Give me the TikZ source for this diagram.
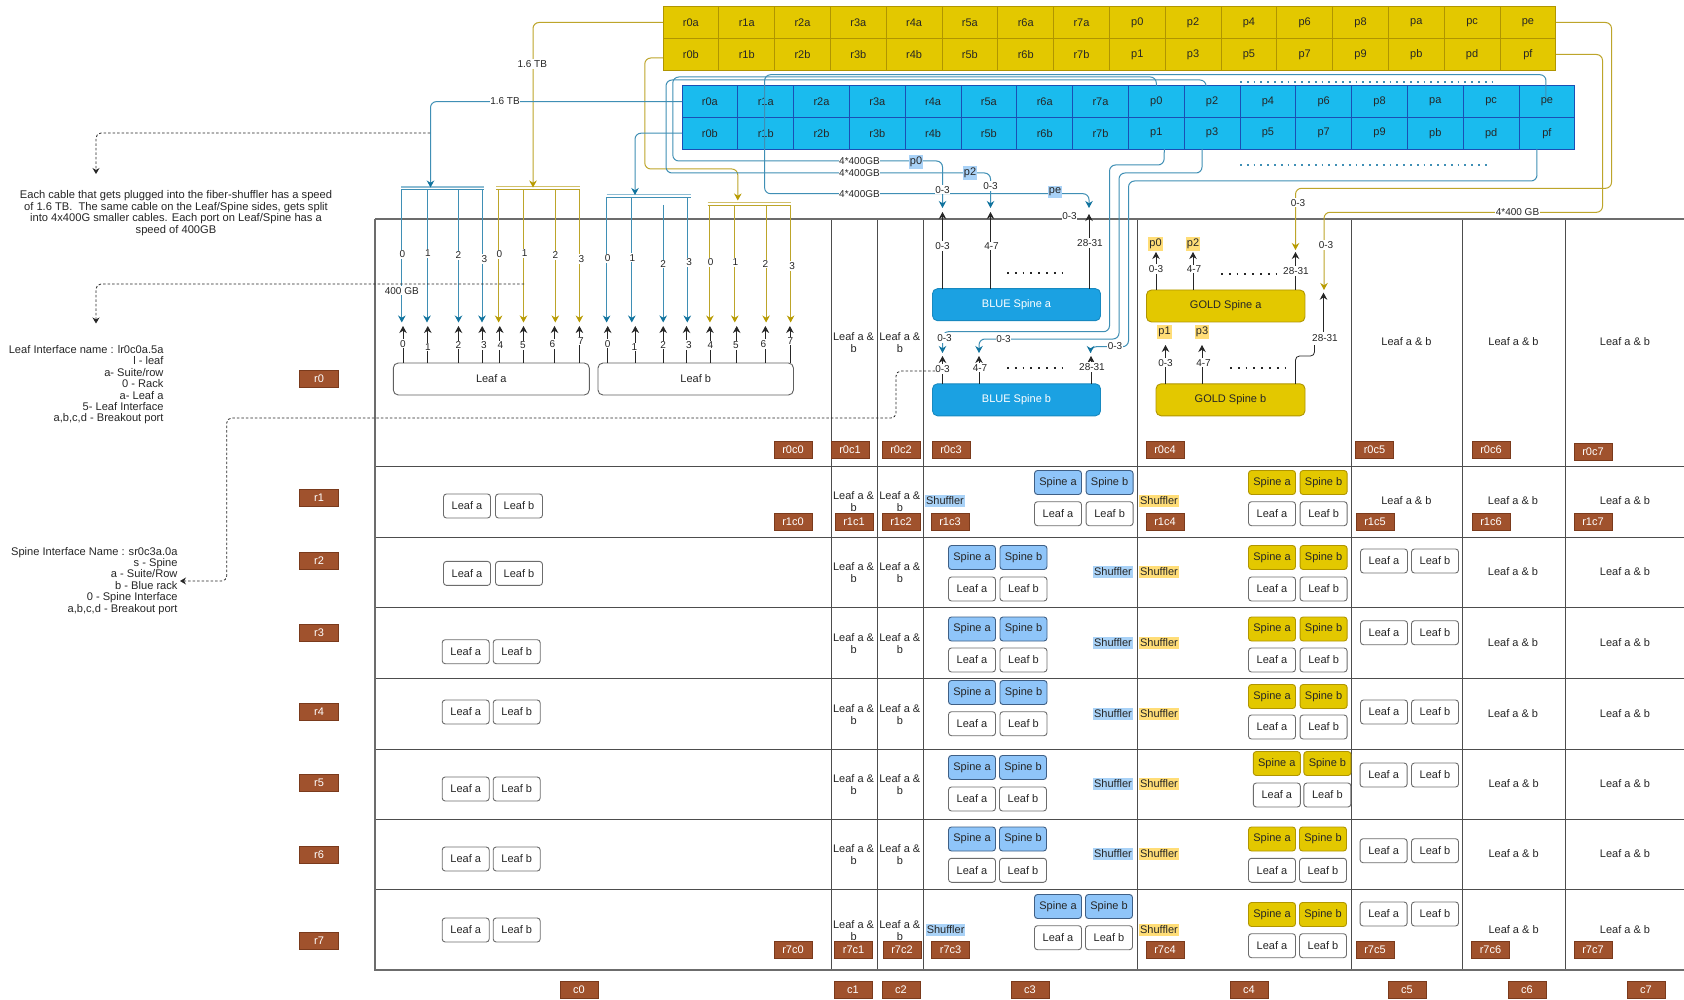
\documentclass[tikz,border=0pt]{standalone}
\usepackage{fontspec}
\setmainfont{Liberation Sans}
\usetikzlibrary{arrows.meta}
\definecolor{ink}{HTML}{262626}
\definecolor{goldfill}{HTML}{E3C800}
\definecolor{goldedge}{HTML}{B09500}
\definecolor{goldline}{HTML}{BDA52A}
\definecolor{goldtip}{HTML}{B89B00}
\definecolor{bluefill}{HTML}{1ABBEE}
\definecolor{blueedge}{HTML}{1A4FB5}
\definecolor{blueline}{HTML}{3F8FB5}
\definecolor{bluetip}{HTML}{10739E}
\definecolor{spinefill}{HTML}{1BA1E2}
\definecolor{lightspine}{HTML}{8FC5F9}
\definecolor{lightedge}{HTML}{3F5F85}
\definecolor{tagfill}{HTML}{A0522D}
\definecolor{tagedge}{HTML}{7A3A1C}
\definecolor{hiblue}{HTML}{A9D2F7}
\definecolor{higold}{HTML}{FFDD77}
\definecolor{gridc}{HTML}{4D4D4D}
\tikzset{
 every node/.style={font=\fontsize{11}{12}\selectfont,text=ink,inner sep=0pt,outer sep=0pt},
 gcell/.style={draw=goldedge,fill=goldfill,line width=.8pt,minimum width=55.8pt,minimum height=32pt},
 bcell/.style={draw=blueedge,fill=bluefill,line width=.8pt,minimum width=55.8pt,minimum height=31.6pt},
 tag/.style={draw=tagedge,fill=tagfill,text=white,line width=.6pt,minimum width=38pt,minimum height=16.5pt},
 tagw/.style={tag,minimum width=38.5pt},
 sleaf/.style={draw=gray!85!black,fill=white,rounded corners=3pt,line width=.9pt,minimum width=47pt,minimum height=24pt},
 bsp/.style={draw=lightedge,fill=lightspine,rounded corners=3pt,line width=.9pt,minimum width=47pt,minimum height=24pt},
 gsp/.style={draw=goldedge,fill=goldfill,rounded corners=3pt,line width=.9pt,minimum width=47pt,minimum height=24pt},
 bigbox/.style={rounded corners=5pt,line width=.9pt},
 shb/.style={fill=hiblue,inner xsep=1pt,inner ysep=2pt},
 shg/.style={fill=higold,inner xsep=1pt,inner ysep=2pt},
 lbl/.style={fill=white,font=\fontsize{10}{11}\selectfont,inner xsep=.5pt,inner ysep=1pt},
 stem/.style={draw=ink,line width=.8pt,-{Stealth[length=7pt,width=7.5pt]}},
 bluec/.style={draw=blueline,line width=1pt,rounded corners=6pt,-{Stealth[length=7pt,width=7.5pt,color=bluetip]}},
 goldc/.style={draw=goldline,line width=1pt,rounded corners=6pt,-{Stealth[length=7pt,width=7.5pt,color=goldtip]}},
 bluen/.style={draw=blueline,line width=1pt,rounded corners=6pt},
 goldn/.style={draw=goldline,line width=1pt,rounded corners=6pt},
 hint/.style={draw=ink,line width=.8pt,dash pattern=on 2.5pt off 2pt,rounded corners=5pt,-{Stealth[length=6pt,width=7pt]}},
 dotsk/.style={draw=ink,line width=1.8pt,dash pattern=on 1.8pt off 6pt},
 dotsb/.style={draw=blueline,line width=1.8pt,dash pattern=on 1.8pt off 5pt},
 gridl/.style={draw=gridc,line width=1pt},
 gridt/.style={draw=gray!85!black,line width=1.8pt}
}
\begin{document}
\begin{tikzpicture}[x=1pt,y=-1pt]
\useasboundingbox (0,0) rectangle (1684,1000);
\fill[white] (0,0) rectangle (1684,1000);
% grid
\foreach \y in {466,537,607,678,749,819,889}{\draw[gridl] (375,\y) -- (1684,\y);}
\foreach \x in {831,877,923.5,1137.5,1351,1462.5,1565}{\draw[gridl] (\x,219) -- (\x,970);}
\draw[gridt] (375,219) -- (1684,219);
\draw[gridt] (375,219) -- (375,970) -- (1684,970);
% tables
\foreach \t [count=\i from 0] in {r0a,r1a,r2a,r3a,r4a,r5a,r6a,r7a,p0,p2,p4,p6,p8,pa,pc,pe}{
 \node[gcell] (g\t) at ({663+55.8*(\i+.5)},22.5) {\t};
 \node[bcell] (b\t) at ({682+55.8*(\i+.5)},101.6) {\t};}
\foreach \t [count=\i from 0] in {r0b,r1b,r2b,r3b,r4b,r5b,r6b,r7b,p1,p3,p5,p7,p9,pb,pd,pf}{
 \node[gcell] (g\t) at ({663+55.8*(\i+.5)},54.5) {\t};
 \node[bcell] (b\t) at ({682+55.8*(\i+.5)},133.2) {\t};}
% big boxes
\node[bigbox,draw=gray!75!black,fill=white,minimum width=196pt,minimum height=32pt] (LeafA) at (491.3,379) {Leaf a};
\node[bigbox,draw=gray!75!black,fill=white,minimum width=195.5pt,minimum height=32pt] (LeafB) at (695.7,379) {Leaf b};
\node[bigbox,draw=spinefill!85!black,fill=spinefill,text=white,minimum width=168pt,minimum height=32pt] (BSa) at (1016.5,304.7) {BLUE Spine a};
\node[bigbox,draw=spinefill!85!black,fill=spinefill,text=white,minimum width=168pt,minimum height=32pt] (BSb) at (1016.5,399.8) {BLUE Spine b};
\node[bigbox,draw=goldedge,fill=goldfill,minimum width=158.5pt,minimum height=32pt] (GSa) at (1225.7,306) {GOLD Spine a};
\node[bigbox,draw=goldedge,fill=goldfill,minimum width=149pt,minimum height=32pt] (GSb) at (1230.5,399.8) {GOLD Spine b};
% leaf port stems
\foreach \n/\x in {a0/403,a1/427.8,a2/458.5,a3/482.2,a4/499.8,a5/523.5,a6/554.5,a7/579.4}{
 \coordinate (pl\n) at (\x,326);
 \draw[stem] (pl\n |- LeafA.north) -- (pl\n);}
\foreach \n/\x in {b0/607.7,b1/635.3,b2/663.2,b3/686.5,b4/709.9,b5/736.7,b6/765.4,b7/789.9}{
 \coordinate (pl\n) at (\x,326);
 \draw[stem] (pl\n |- LeafB.north) -- (pl\n);}
\foreach \x/\y/\d in {403/343.7/0,427.8/347/1,458.5/345/2,484/345/3,500.5/345.5/4,523/345.5/5,552.5/344/6,581/341/7,607.7/343.7/0,634.5/347/1,663.2/345/2,689/345/3,710.5/345.5/4,736/345.5/5,763.5/344/6,790.5/341/7}{
 \node[lbl] at (\x,\y) {\d};}
% buses and drops
\coordinate (bb1l) at (401,189.7); \coordinate (bb1r) at (484,189.7);
\coordinate (bg1l) at (496,189.5); \coordinate (bg1r) at (579.5,189.5);
\coordinate (bb2l) at (606.6,197.5); \coordinate (bb2r) at (691,197.5);
\coordinate (bg2l) at (707.6,205.5); \coordinate (bg2r) at (790.6,205.5);
\draw[draw=blueline!60!white,line width=1.2pt] ([yshift=2.7pt]bb1l) -- ([yshift=2.7pt]bb1r);
\draw[draw=blueline,line width=1pt] (bb1l) -- (bb1r);
\draw[draw=goldline!70!white,line width=1.2pt] ([yshift=2.7pt]bg1l) -- ([yshift=2.7pt]bg1r);
\draw[draw=goldline,line width=1pt] (bg1l) -- (bg1r);
\draw[draw=blueline!60!white,line width=1.2pt] ([yshift=2.7pt]bb2l) -- ([yshift=2.7pt]bb2r);
\draw[draw=blueline,line width=1pt] (bb2l) -- (bb2r);
\draw[draw=goldline!70!white,line width=1.2pt] ([yshift=3pt]bg2l) -- ([yshift=3pt]bg2r);
\draw[draw=goldline,line width=1pt] (bg2l) -- (bg2r);
\foreach \x in {401.8,427,458.5,482}{\coordinate (d) at (\x,322.5); \draw[bluec] (d |- bb1l) -- (d);}
\foreach \x in {498.6,523.5,555.3,579.4}{\coordinate (d) at (\x,322.5); \draw[goldc] (d |- bg1l) -- (d);}
\foreach \x in {606.6,631.8,687.3}{\coordinate (d) at (\x,322.5); \draw[bluec] (d |- bb2l) -- (d);}
\coordinate (d) at (663.2,322.5); \coordinate (dt) at (663.2,205); \draw[bluec] (dt) -- (d);
\foreach \x in {709.9,734.8,766.1,790.6}{\coordinate (d) at (\x,322.5); \draw[goldc] (d |- bg2l) -- (d);}
\foreach \x/\y/\d in {402.5/254.3/0,427.8/253.3/1,458.5/255.3/2,484.5/259/3,499.5/254.3/0,524.7/253.3/1,555.3/255.3/2,581.3/259/3,607.7/258.3/0,632.5/257.7/1,663.2/264/2,689.2/262.3/3,710.7/262.3/0,735.5/262.3/1,765.4/264/2,792.2/266/3}{
 \node[lbl] at (\x,\y) {\d};}
\node[lbl] at (401.8,290.7) {400 GB};
% feeders to the leaves
\coordinate (fb1) at (430.5,187.5); \coordinate (fg1) at (533,187.5);
\coordinate (fb2) at (635,195); \coordinate (fg2) at (737.8,200.5);
\draw[goldc] (gr0a.west) -- (fg1 |- gr0a.west) -- (fg1);
\draw[goldc] ([yshift=-3.5pt]gr0b.west) -- (644.8,58) -- (644.8,169) -- (737.8,169) -- (fg2);
\draw[bluec] (br0a.west) -- (fb1 |- br0a.west) -- (fb1);
\draw[bluec] (br0b.west) -- (fb2 |- br0b.west) -- (fb2);
\node[lbl] at (532.3,64) {1.6 TB};
\node[lbl] at (505,101) {1.6 TB};
% spine stems
\coordinate (sa0) at (942.5,212); \coordinate (sa1) at (990.5,212); \coordinate (sa2) at (1089,214);
\coordinate (sb0) at (942.5,356); \coordinate (sb1) at (979,356); \coordinate (sb2) at (1091,356);
\coordinate (ga0) at (1156,252); \coordinate (ga1) at (1193,252); \coordinate (ga2) at (1295.5,252);
\coordinate (gb0) at (1165.5,345); \coordinate (gb1) at (1202,345); \coordinate (gb2) at (1323.5,292.7);
\draw[stem] (sa0 |- BSa.north) -- (sa0);
\draw[stem] (sa1 |- BSa.north) -- (sa1);
\draw[stem] (sa2 |- BSa.north) -- (sa2);
\draw[stem] (sb0 |- BSb.north) -- (sb0);
\draw[stem] (sb1 |- BSb.north) -- (sb1);
\draw[stem] (sb2 |- BSb.north) -- (sb2);
\draw[stem] (ga0 |- GSa.north) -- (ga0);
\draw[stem] (ga1 |- GSa.north) -- (ga1);
\draw[stem] (ga2 |- GSa.north) -- (ga2);
\draw[stem] (gb0 |- GSb.north) -- (gb0);
\draw[stem] (gb1 |- GSb.north) -- (gb1);
\coordinate (gbk) at (1314.5,345);
\draw[draw=ink,line width=.8pt,rounded corners=4pt] (ga2 |- GSb.north) -- (1295.5,356) -- (1314.5,356) -- (gbk);
\coordinate (gbs) at (1323.5,332);
\draw[stem] (gbs) -- (gb2);
% blue cables
\coordinate (ta0) at (942.5,208); \coordinate (ta1) at (990.5,208); \coordinate (ta2) at (1089,208);
\coordinate (tb0) at (942.5,353); \coordinate (tb1) at (979,353); \coordinate (tb2) at (1090.5,353);
\draw[bluec] (bp0.north) -- (1156.3,77) -- (672.8,77) -- (672.8,161) -- (942.5,161) -- (ta0);
\draw[bluec] ([xshift=-6pt]bp2.north) -- (1206,80) -- (666,80) -- (666,173) -- (990.5,173) -- (ta1);
\draw[bluec] ([xshift=-1pt,yshift=-12pt]bpe.north) -- (1546,74.7) -- (764.6,74.7) -- (764.6,193.7) -- (1089,193.7) -- (ta2);
\draw[bluec] ([xshift=8pt]bp1.south) -- (1164,165) -- (1109.5,165) -- (1109.5,331.7) -- (942.5,331.7) -- (tb0);
\draw[bluec] ([xshift=-10pt]bp3.south) -- (1202,173) -- (1119,173) -- (1119,339) -- (979,339) -- (tb1);
\draw[bluec] ([xshift=-10pt]bpf.south) -- (1537,181) -- (1128.5,181) -- (1128.5,346.7) -- (1090.5,346.7) -- (tb2);
% gold cables
\coordinate (tg0) at (1295.5,250); \coordinate (tg1) at (1324,290);
\draw[goldc] (gpe.east) -- (1611.5,22.5) -- (1611.5,188.3) -- (1295.5,188.3) -- (tg0);
\draw[goldc] (gpf.east) -- (1602.5,54.5) -- (1602.5,212.3) -- (1324,212.3) -- (tg1);
% dots
\draw[dotsb] (1240,81.7) -- (1495,81.7);
\draw[dotsb] (1240,165) -- (1487,165);
\draw[dotsk] (1007,272.7) -- (1062,272.7);
\draw[dotsk] (1007,367.7) -- (1062,367.7);
\draw[dotsk] (1221,274) -- (1276,274);
\draw[dotsk] (1230,367.7) -- (1285,367.7);
% labels on cables
\foreach \x/\y in {859.5/161,859.5/173,859.5/193.7}{\node[lbl] at (\x,\y) {4*400GB};}
\node[lbl] at (1517.5,212.3) {4*400 GB};
\node[shb] at (916,162) {p0};
\node[shb] at (970,173) {p2};
\node[shb] at (1055,192) {pe};
\node[shg] at (1155.5,244) {p0};
\node[shg] at (1193,244) {p2};
\node[shg] at (1164.5,331.7) {p1};
\node[shg] at (1202,331.7) {p3};
\foreach \x/\y/\t in {942.5/189.7/0-3,990.5/186/0-3,1069.5/216/0-3,942.5/246/0-3,991.5/246/4-7,1090/243/28-31,944.5/338/0-3,1003.5/339/0-3,1115/345.7/0-3,942.5/369/0-3,980/367.7/4-7,1092/367/28-31,1156/269/0-3,1194/269/4-7,1296/271/28-31,1165.5/362.7/0-3,1203.5/362.7/4-7,1325/338/28-31,1298/202.7/0-3,1326/245/0-3}{
 \node[lbl] at (\x,\y) {\t};}
% tags
\foreach \t/\y in {r0/379,r1/498,r2/561,r3/633,r4/712,r5/783,r6/855,r7/941}{\node[tagw] (l\t) at (319,\y) {\t};}
\foreach \t/\x in {c0/579,c1/853,c2/901,c3/1030,c4/1249,c5/1407,c6/1527,c7/1646}{\node[tag] (l\t) at (\x,990) {\t};}
\foreach \t/\x/\y in {r0c0/793/450,r0c1/850/450,r0c2/901/450,r0c3/951/450,r0c4/1165/450,r0c5/1374.5/450,r0c6/1491/450,r0c7/1593/452,
 r1c0/793/522,r1c1/854/522,r1c2/901/522,r1c3/950/522,r1c4/1165/522,r1c5/1375/522,r1c6/1491/522,r1c7/1593/522,
 r7c0/793/950,r7c1/853.6/950,r7c2/902/950,r7c3/950.6/950,r7c4/1165/950,r7c5/1375/950,r7c6/1490.5/950,r7c7/1593/950}{
 \node[tag] (\t) at (\x,\y) {\t};}
% Leaf a & b two-line
\foreach \y in {342.5,502,573,643.7,714.7,785,855,931}{
 \node[align=center] at (853.6,\y) {Leaf a \&\\b};
 \node[align=center] at (899.8,\y) {Leaf a \&\\b};}
% Leaf a & b one-line
\foreach \x/\y in {1406.5/342,1513.5/342,1625/342,1406.4/501,1513/501,1625/501,1513/572,1625/572,1513/642.7,1625/642.7,1513/714,1625/714,1513.6/783.7,1625/783.7,1513.6/854,1625/854,1513.6/929.7,1625/929.7}{
 \node at (\x,\y) {Leaf a \& b};}
% small leaves
\foreach \x/\y/\n [count=\i] in {467/506/a,519/506/b,467/573.4/a,519/573.4/b,465.7/651.7/a,516.7/651.7/b,465.7/712/a,516.7/712/b,465.7/789/a,516.7/789/b,465.7/859/a,516.7/859/b,465.7/930/a,516.7/930/b,
 1058/513.7/a,1109.6/513.7/b,972/589/a,1023.5/589/b,972/660/a,1023.5/660/b,972/723.7/a,1023.5/723.7/b,972/799/a,1023/799/b,972/870.3/a,1023/870.3/b,1058/937.7/a,1109/937.7/b,
 1272/513.7/a,1323.6/513.7/b,1272/589/a,1323.6/589/b,1272/660/a,1323.6/660/b,1272/727/a,1323.6/727/b,1276.8/795/a,1327.4/795/b,1272/870.3/a,1323/870.3/b,1272/945.7/a,1323/945.7/b,
 1384/561/a,1435/561/b,1384/632.7/a,1435/632.7/b,1384/712/a,1435/712/b,1383.6/775/a,1435/775/b,1383.6/850.7/a,1435/850.7/b,1383.6/914/a,1435/914/b}{
 \node[sleaf] (sl\i) at (\x,\y) {Leaf \n};}
% small blue spines
\foreach \x/\y/\n [count=\i] in {1058/482.5/a,1109.6/482.5/b,972/557.5/a,1023.5/557.5/b,972/629/a,1023.5/629/b,972/692.5/a,1023.5/692.5/b,972/767.5/a,1023/767.5/b,972/839/a,1023/839/b,1058/906.5/a,1109/906.5/b}{
 \node[bsp] (ss\i) at (\x,\y) {Spine \n};}
% small gold spines
\foreach \x/\y/\n [count=\i] in {1272/482.5/a,1323.6/482.5/b,1272/557.5/a,1323.6/557.5/b,1272/629/a,1323.6/629/b,1272/696.5/a,1323.6/696.5/b,1276.8/763.5/a,1327.4/763.5/b,1272/839/a,1323/839/b,1272/914.5/a,1323/914.5/b}{
 \node[gsp] (gs\i) at (\x,\y) {Spine \n};}
% shufflers
\foreach \x/\y [count=\i] in {945/501,1113/572,1113/642.7,1113/714,1113/783.7,1113/854,945.6/929.7}{\node[shb] (shb\i) at (\x,\y) {Shuffler};}
\foreach \y [count=\i] in {501,572,642.7,714,783.7,854,929.7}{\node[shg] (shg\i) at (1159,\y) {Shuffler};}
% notes
\node[align=center,font=\fontsize{11.15}{11.6}\selectfont] (note1) at (176,213) {Each cable that gets plugged into the fiber-shuffler has a speed\\of 1.6 TB.\ \ The same cable on the Leaf/Spine sides, gets split\\into 4x400G smaller cables. Each port on Leaf/Spine has a\\speed of 400GB};
\node[align=right,anchor=north east,font=\fontsize{11.1}{11.4}\selectfont] (note2) at (163.5,345.5) {Leaf Interface name : lr0c0a.5a\\l - leaf\\a- Suite/row\\0 - Rack\\a- Leaf a\\5- Leaf Interface\\a,b,c,d - Breakout port};
\node[align=right,anchor=north east,font=\fontsize{11.1}{11.4}\selectfont] (note3) at (177.5,547) {Spine Interface Name : sr0c3a.0a\\s - Spine\\a - Suite/Row\\b - Blue rack\\0 - Spine Interface\\a,b,c,d - Breakout port};
% hint arrows
\coordinate (h1a) at (430,133); \coordinate (h1b) at (96,174);
\coordinate (h2a) at (524,284); \coordinate (h2b) at (96,323.5);
\coordinate (h3a) at (935,371); \coordinate (h3b) at (180,581);
\draw[hint] (h1a) -- (96,133) -- (h1b);
\draw[hint] (h2a) -- (96,284) -- (h2b);
\draw[hint] (h3a) -- (896,371) -- (896,418) -- (226.7,418) -- (226.7,581) -- (h3b);
\end{tikzpicture}
\end{document}
